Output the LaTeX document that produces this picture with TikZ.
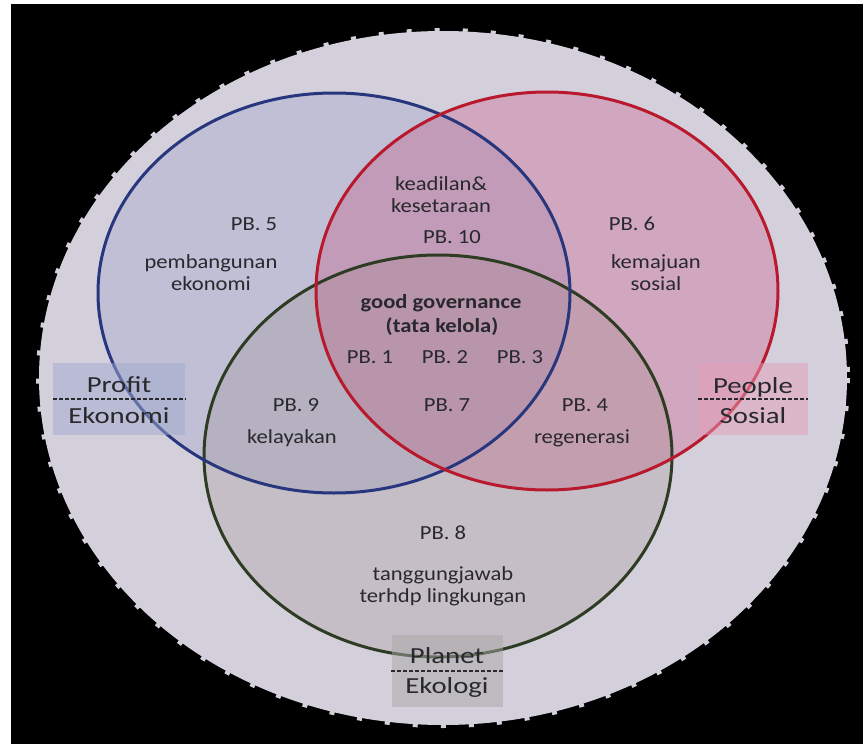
\documentclass[tikz,border=0pt]{standalone}
\usepackage{fontspec}
\setmainfont{Carlito}
\newfontfamily\pbfont[FakeStretch=1.13]{Carlito}
\newfontfamily\tagfont[FakeStretch=1.25]{Carlito}
\usepackage{xcolor}

\definecolor{bgfill}{RGB}{211,208,220}
\definecolor{ekofill}{RGB}{100,110,180}
\definecolor{sosfill}{RGB}{200,60,110}
\definecolor{ekofill2}{RGB}{150,130,120}
\definecolor{ekoline}{RGB}{40,55,125}
\definecolor{sosline}{RGB}{185,25,45}
\definecolor{lingline}{RGB}{45,60,35}
\definecolor{txtgray}{RGB}{40,40,45}

\begin{document}
\begin{tikzpicture}[x=1pt,y=-1pt,
    lbl/.style={text=txtgray, font=\pbfont\fontsize{20}{23}\selectfont, inner sep=0pt, anchor=base},
    tagbox/.style={minimum width=132pt, minimum height=72pt, inner sep=0pt, fill opacity=0.5},
    tag/.style={text=txtgray, font=\tagfont\fontsize{23}{26}\selectfont, inner sep=0pt, anchor=base},
    tagline/.style={txtgray, line width=1.2pt, dash pattern=on 4pt off 2pt}]
    \useasboundingbox (0,0) rectangle (863,744);
    \fill[white] (0,0) rectangle (863,744);
    \fill[black] (11,4) rectangle (863,744);

    % outer ellipse with ragged edge
    \fill[bgfill] (443,378) ellipse [x radius=404, y radius=347];
    \draw[bgfill, line width=6pt, dash pattern=on 5pt off 23pt] (443,378) ellipse [x radius=404, y radius=347];

    % three circles
    \fill[ekofill, opacity=0.17] (334,293) ellipse [x radius=236, y radius=200];
    \fill[sosfill, opacity=0.27] (547,291) ellipse [x radius=231, y radius=199];
    \fill[ekofill2, opacity=0.22] (438,456) ellipse [x radius=234, y radius=201];
    \draw[lingline, line width=3pt] (438,456) ellipse [x radius=234, y radius=201];
    \draw[ekoline, line width=3pt] (334,293) ellipse [x radius=236, y radius=200];
    \draw[sosline, line width=3pt] (547,291) ellipse [x radius=231, y radius=199];

    % texts
    \node[lbl] (keadilan) at (441,190) {keadilan\&};
    \node[lbl] (setara) at (441,212) {kesetaraan};
    \node[lbl] (pb10) at (452,243) {PB. 10};
    \node[lbl] (pb5) at (254,230) {PB. 5};
    \node[lbl] (bangun) at (211,268) {pembangunan};
    \node[lbl] (ekon) at (211,290) {ekonomi};
    \node[lbl] (pb6) at (632,230) {PB. 6};
    \node[lbl] (maju) at (656,268) {kemajuan};
    \node[lbl] (sos) at (656,290) {sosial};
    \node[lbl, font=\pbfont\bfseries\fontsize{20}{23}\selectfont] (good) at (441,308) {good governance};
    \node[lbl, font=\pbfont\bfseries\fontsize{20}{23}\selectfont] (tata) at (442,332) {(tata kelola)};
    \node[lbl] (pb1) at (370,363) {PB. 1};
    \node[lbl] (pb2) at (445,363) {PB. 2};
    \node[lbl] (pb3) at (520,363) {PB. 3};
    \node[lbl] (pb9) at (296,411) {PB. 9};
    \node[lbl] (layak) at (292,443) {kelayakan};
    \node[lbl] (pb7) at (447,411) {PB. 7};
    \node[lbl] (pb4) at (585,411) {PB. 4};
    \node[lbl] (regen) at (582,443) {regenerasi};
    \node[lbl] (pb8) at (443,539) {PB. 8};
    \node[lbl] (tanggung) at (443,580) {tanggungjawab};
    \node[lbl] (lingk) at (443,602) {terhdp lingkungan};

    % pillar boxes
    \node[tagbox, fill={rgb,255:red,160;green,170;blue,205}] (profit) at (119,399) {};
    \draw[tagline] (profit.west) -- (profit.east);
    \node[tag] (profitA) at (119,392) {Profit};
    \node[tag] (profitB) at (119,423) {Ekonomi};

    \node[tagbox, fill={rgb,255:red,230;green,160;blue,185}, minimum width=110pt] (people) at (753,399) {};
    \draw[tagline] (people.west) -- (people.east);
    \node[tag] (peopleA) at (753,393) {People};
    \node[tag] (peopleB) at (753,423) {Sosial};

    \node[tagbox, fill={rgb,255:red,170;green,168;blue,165}, minimum width=111pt] (planet) at (447,671) {};
    \draw[tagline] (planet.west) -- (planet.east);
    \node[tag] (planetA) at (447,663) {Planet};
    \node[tag] (planetB) at (447,693) {Ekologi};
\end{tikzpicture}
\end{document}
